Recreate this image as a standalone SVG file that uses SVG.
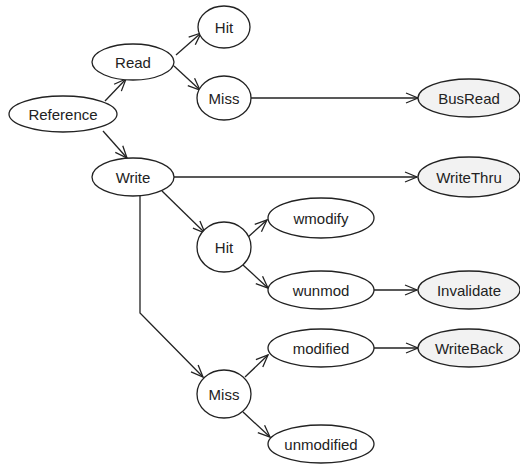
<svg xmlns="http://www.w3.org/2000/svg" width="520" height="464" viewBox="0 0 520 464">
  <style>
    .node ellipse { fill: #ffffff; stroke: #222; stroke-width: 1.3; }
    .leaf ellipse { fill: #f2f2f2; }
    .node text { font-family: "Liberation Sans", Arial, sans-serif; font-size: 15px; fill: #222; text-anchor: middle; dominant-baseline: central; }
    .edge { fill: none; stroke: #222; stroke-width: 1.3; marker-end: url(#arrow); }
  </style>
  <defs>
    <marker id="arrow" markerUnits="userSpaceOnUse" markerWidth="14" markerHeight="12" refX="12" refY="5" orient="auto" viewBox="-1 -1 14 12">
      <path d="M0,0 L12,5 L0,10" fill="none" stroke="#222" stroke-width="1.3"/>
    </marker>
  </defs>
  <rect width="520" height="464" fill="#ffffff"/>

  <g id="connectors">
    <path class="edge" d="M105,101 L126,79"/>
    <path class="edge" d="M103,131 L127,158"/>
    <path class="edge" d="M176,55 L201,33"/>
    <path class="edge" d="M174,66 L200,90"/>
    <path class="edge" d="M251,98 L418,98"/>
    <path class="edge" d="M174,177 L417,177"/>
    <path class="edge" d="M162,191 L205,233"/>
    <path class="edge" d="M247,238 L267,220"/>
    <path class="edge" d="M243,265 L268,288"/>
    <path class="edge" d="M374,290 L417,290"/>
    <path class="edge" d="M140,196 L140,313 L203,377"/>
    <path class="edge" d="M245,377 L268,355"/>
    <path class="edge" d="M243,412 L270,437"/>
    <path class="edge" d="M374,348 L418,348"/>
  </g>

  <g id="reference" class="node"><ellipse cx="63" cy="114" rx="54" ry="18"/><text x="63" y="114">Reference</text></g>
  <g id="read" class="node"><ellipse cx="133" cy="62" rx="41" ry="18"/><text x="133" y="62">Read</text></g>
  <g id="read-hit" class="node"><ellipse cx="224" cy="27" rx="26" ry="21"/><text x="224" y="27">Hit</text></g>
  <g id="read-miss" class="node"><ellipse cx="224" cy="98" rx="27" ry="22"/><text x="224" y="98">Miss</text></g>
  <g id="busread" class="node leaf"><ellipse cx="469" cy="98" rx="51" ry="19"/><text x="469" y="98">BusRead</text></g>
  <g id="write" class="node"><ellipse cx="133" cy="177" rx="41" ry="19"/><text x="133" y="177">Write</text></g>
  <g id="writethru" class="node leaf"><ellipse cx="469" cy="177" rx="51" ry="20"/><text x="469" y="177">WriteThru</text></g>
  <g id="write-hit" class="node"><ellipse cx="224" cy="247" rx="27" ry="25"/><text x="224" y="247">Hit</text></g>
  <g id="wmodify" class="node"><ellipse cx="321" cy="218" rx="53" ry="20"/><text x="321" y="218">wmodify</text></g>
  <g id="wunmod" class="node"><ellipse cx="321" cy="290" rx="53" ry="19"/><text x="321" y="290">wunmod</text></g>
  <g id="invalidate" class="node leaf"><ellipse cx="469" cy="290" rx="51" ry="19"/><text x="469" y="290">Invalidate</text></g>
  <g id="write-miss" class="node"><ellipse cx="224" cy="394" rx="27" ry="24"/><text x="224" y="394">Miss</text></g>
  <g id="modified" class="node"><ellipse cx="321" cy="348" rx="53" ry="19"/><text x="321" y="348">modified</text></g>
  <g id="writeback" class="node leaf"><ellipse cx="469" cy="348" rx="51" ry="19"/><text x="469" y="348">WriteBack</text></g>
  <g id="unmodified" class="node"><ellipse cx="321" cy="444" rx="53" ry="19"/><text x="321" y="444">unmodified</text></g>
</svg>
